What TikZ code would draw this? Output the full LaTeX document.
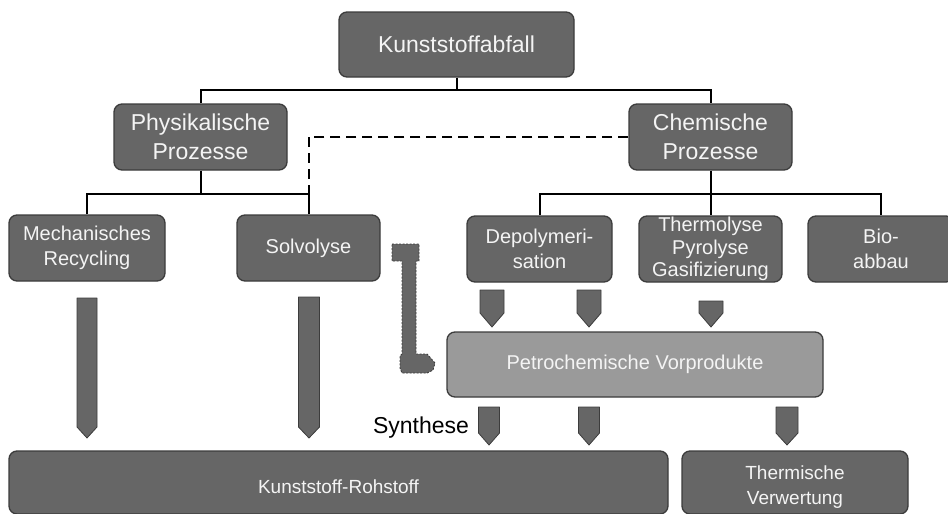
\documentclass[tikz,border=0pt]{standalone}
\usepackage{fontspec}
\setmainfont{Liberation Sans}
\definecolor{boxfill}{HTML}{666666}
\definecolor{boxline}{HTML}{3C3C3C}
\definecolor{petrofill}{HTML}{9A9A9A}
\definecolor{boxtext}{HTML}{F4F4F4}
\newcommand{\blockarr}[5]{\filldraw[blockarrow] ({#1-#5},#2) -- ({#1+#5},#2) -- ({#1+#5},#3) -- (#1,#4) -- ({#1-#5},#3) -- cycle;}
\begin{document}
\begin{tikzpicture}[x=1pt,y=-1pt,
  box/.style={draw=boxline, fill=boxfill, line width=1.3pt, rounded corners=8pt, text=boxtext, align=center, inner sep=0pt},
  big/.style={font=\fontsize{23}{29}\selectfont},
  mid/.style={font=\fontsize{20}{25}\selectfont},
  small/.style={font=\fontsize{19}{25}\selectfont},
  conn/.style={draw=black, line width=2pt},
  dashconn/.style={draw=black, line width=2pt, dash pattern=on 10pt off 6pt},
  blockarrow/.style={fill=boxfill, draw=boxline, line width=0.8pt, line join=round},
]
\useasboundingbox (0,0) rectangle (948,514);
% level 0
\node[box,big,minimum width=235pt,minimum height=65pt] (abfall) at (456.5,44.5) {Kunststoffabfall};
% level 1
\node[box,big,minimum width=173pt,minimum height=66pt] (phys) at (200.5,137) {Physikalische\\Prozesse};
\node[box,big,minimum width=163pt,minimum height=66pt] (chem) at (710.5,137) {Chemische\\Prozesse};
% level 2
\node[box,mid,minimum width=156pt,minimum height=66pt] (mech) at (87,248) {Mechanisches\\Recycling};
\node[box,mid,minimum width=143pt,minimum height=66pt] (solv) at (308.5,248) {Solvolyse};
\node[box,mid,minimum width=145pt,minimum height=66pt] (depol) at (539.5,249) {Depolymeri-\\sation};
\node[box,font=\fontsize{20}{22.5}\selectfont,minimum width=143pt,minimum height=66pt] (thermo) at (710.5,249) {Thermolyse\\Pyrolyse\\Gasifizierung};
\node[box,mid,minimum width=146pt,minimum height=66pt] (bio) at (881,249) {Bio-\\abbau};
% level 3
\node[box,mid,fill=petrofill,minimum width=376pt,minimum height=65pt] (petro) at (635,364.5) {Petrochemische Vorprodukte};
% level 4
\node[box,small,minimum width=659pt,minimum height=63pt] (roh) at (338.5,482.5) {\raisebox{-11pt}[0pt][0pt]{Kunststoff-Rohstoff}};
\node[box,small,minimum width=226pt,minimum height=63pt] (therm) at (795,482.5) {\raisebox{-8.75pt}[0pt][0pt]{\begin{tabular}{@{}c@{}}Thermische\\Verwertung\end{tabular}}};
\node[font=\fontsize{23}{28}\selectfont,text=black,inner sep=0pt] (syn) at (421,428) {Synthese};
% tree connectors
\draw[conn] (abfall.south) -- ++(0,12) coordinate (t1);
\draw[conn] (phys.north) |- (t1) -| (chem.north);
\draw[conn] (phys.south) -- ++(0,23) coordinate (p1);
\draw[conn] (mech.north) |- (p1) -| (solv.north);
\draw[dashconn] (chem.west) -| (p1 -| solv.north);
\draw[conn] (chem.south) -- ++(0,23) coordinate (c1);
\draw[conn] (depol.north) |- (c1) -| (bio.north);
\draw[conn] (c1) -- (thermo.north);
% block arrows
\blockarr{87}{298}{427}{438}{10}
\blockarr{309}{297}{427}{438}{10.5}
\blockarr{492}{290}{313}{327}{12}
\blockarr{589}{290}{313}{327}{12}
\blockarr{711}{301}{313}{327}{12}
\blockarr{489}{407}{433}{445}{10.5}
\blockarr{589}{407}{433}{445}{10.5}
\blockarr{787}{407}{433}{445}{11}
% bent dashed-outline arrow
\filldraw[fill=boxfill, draw=boxline, line width=0.9pt, dash pattern=on 2pt off 1.5pt, line join=round]
  (392,244) -- (419,244) -- (419,261) -- (416,261) -- (416,354) -- (427,354) -- (435,363)
  -- (433,370) -- (427,373) -- (402,373) -- (400,368) -- (400,356) -- (402,354)
  -- (402,261) -- (392,261) -- cycle;
\end{tikzpicture}
\end{document}
